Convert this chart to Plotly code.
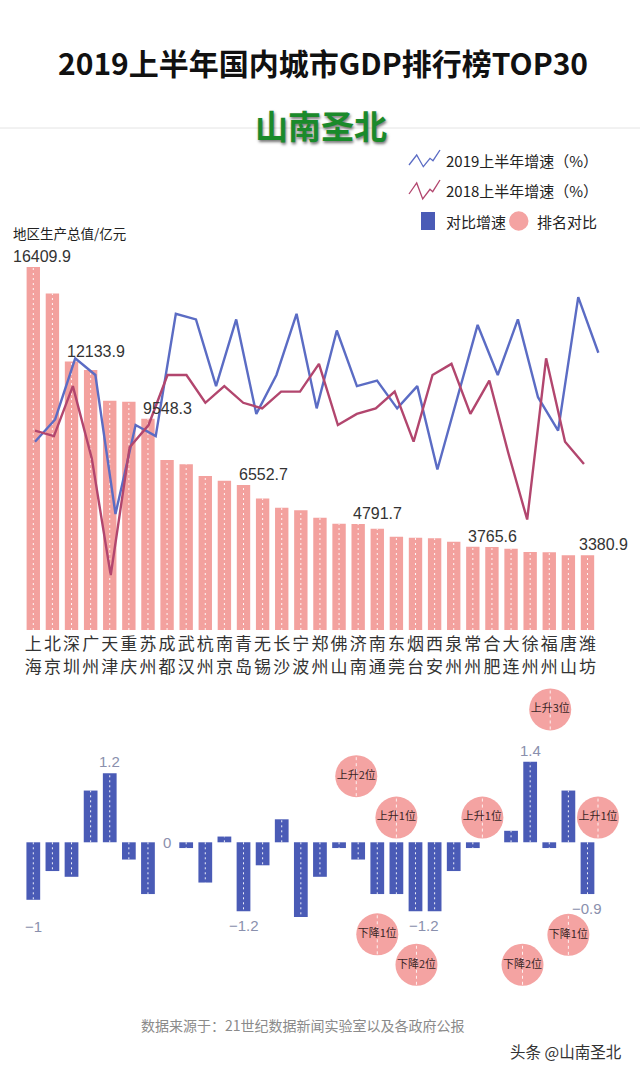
import plotly.graph_objects as go

W, H = 640, 1072

# ---------------- data ----------------
cities = ["上海", "北京", "深圳", "广州", "天津", "重庆", "苏州", "成都", "武汉", "杭州",
          "南京", "青岛", "无锡", "长沙", "宁波", "郑州", "佛山", "济南", "南通", "东莞",
          "烟台", "西安", "泉州", "常州", "合肥", "大连", "徐州", "福州", "唐山", "潍坊"]

gdp = [16409.9, 15212.5, 12133.9, 11750, 10360, 10320, 9548.3, 7685, 7490, 6960,
       6750, 6552.7, 5950, 5530, 5410, 5080, 4800, 4791.7, 4580, 4215,
       4175, 4145, 3993, 3765.6, 3752, 3677, 3526, 3520, 3384, 3380.9]

# growth lines as drawn in the picture (the 2019 line has 29 vertices)
growth_2019 = [5.9, 6.3, 7.4, 7.1, 4.6, 6.2, 6.0, 8.2, 8.1, 6.9,
               8.1, 6.4, 7.1, 8.2, 6.5, 7.9, 6.9, 7.0, 6.5, 6.9,
               5.4, 6.7, 8.0, 7.1, 8.1, 6.7, 6.1, 8.5, 7.5]
growth_2018 = [6.1, 6.0, 6.9, 5.6, 3.5, 5.8, 6.2, 7.1, 7.1, 6.6,
               6.9, 6.6, 6.5, 6.8, 6.8, 7.3, 6.2, 6.4, 6.5, 6.8,
               5.9, 7.1, 7.3, 6.4, 7.0, 5.7, 4.5, 7.4, 5.9, 5.5]

growth_diff = [-1.0, -0.5, -0.6, 0.9, 1.2, -0.3, -0.9, 0.0, -0.1, -0.7,
               0.1, -1.2, -0.4, 0.4, -1.3, -0.6, -0.1, -0.3, -0.9, -0.9,
               -1.2, -1.2, -0.5, -0.1, 0.0, 0.2, 1.4, -0.1, 0.9, -0.9]

gdp_label_idx = [0, 2, 6, 11, 17, 23, 29]
diff_label_idx = [0, 4, 7, 11, 20, 26, 29]

rank_text = ["上升2位", "下降1位", "上升1位", "下降2位", "上升1位",
             "下降2位", "上升3位", "下降1位", "上升1位"]
rank_pos = [16.9, 18.0, 19.0, 20.05, 23.5, 25.6, 27.05, 28.0, 29.55]
rank_level = [1.15, -1.6, 0.43, -2.13, 0.43, -2.13, 2.31, -1.61, 0.43]

# ---------------- geometry helpers ----------------
def py(p):
    return 1 - p / H

def pxp(p):
    return p / W

CAT0, CATD = 33.3, 19.11          # first category centre / spacing in px
x_range = [-CAT0 / CATD, (W - CAT0) / CATD]

TOP_BASE, TOP_TOP, TOP_SCALE = 630, 230, 363 / 16409.9
LINE_SCALE, LINE_REF_V, LINE_REF_P = 55.6, 5.9, 441.7
line_r0 = LINE_REF_V - (TOP_BASE - LINE_REF_P) / LINE_SCALE
line_range = [line_r0, line_r0 + (TOP_BASE - TOP_TOP) / LINE_SCALE]

BOT_BASE, BOT_TOP, BOT_BOT, BOT_SCALE = 842.3, 680, 1000, 57.5
bot_range = [-(BOT_BOT - BOT_BASE) / BOT_SCALE, (BOT_BASE - BOT_TOP) / BOT_SCALE]

blue_x0, blue_dx = 35, 20.12
red_x0, red_dx = 35, 18.93

CJK = "Noto Sans CJK SC"
NUM = "Liberation Sans, Noto Sans CJK SC"

PINK = "#F3A19E"
CIRCLE = "#F4A3A2"
BLUE_BAR = "#4A5BB6"
BLUE_LINE = "#5B6CC4"
RED_LINE = "#B2466E"

idx = list(range(len(cities)))
fig = go.Figure()

# top GDP bars
fig.add_trace(go.Bar(x=idx, y=gdp, marker=dict(color=PINK, line=dict(width=0)),
                     width=0.7, xaxis="x", yaxis="y", hoverinfo="skip"))
dx, dy = [], []
for i, v in zip(idx, gdp):
    dx += [i, i, None]
    dy += [0, v, None]
fig.add_trace(go.Scatter(x=dx, y=dy, mode="lines", xaxis="x", yaxis="y",
                         line=dict(color="rgba(255,255,255,0.9)", width=1, dash="2px,3px"),
                         hoverinfo="skip"))
# invisible companion trace so that the second row of city labels (axis x5) is drawn
fig.add_trace(go.Scatter(x=idx, y=[0] * len(idx), mode="markers", xaxis="x5", yaxis="y",
                         marker=dict(size=1, opacity=0), hoverinfo="skip"))

# lines
fig.add_trace(go.Scatter(x=list(range(len(growth_2019))), y=growth_2019, mode="lines",
                         line=dict(color=BLUE_LINE, width=2.4), xaxis="x2", yaxis="y2",
                         hoverinfo="skip"))
fig.add_trace(go.Scatter(x=list(range(len(growth_2018))), y=growth_2018, mode="lines",
                         line=dict(color=RED_LINE, width=2.4), xaxis="x3", yaxis="y2",
                         hoverinfo="skip"))

# bottom diff bars
fig.add_trace(go.Bar(x=idx, y=growth_diff, marker=dict(color=BLUE_BAR, line=dict(width=0)),
                     width=0.72, xaxis="x4", yaxis="y3", hoverinfo="skip"))
bx, by = [], []
for i, v in zip(idx, growth_diff):
    if v != 0:
        bx += [i, i, None]
        by += [0, v, None]
fig.add_trace(go.Scatter(x=bx, y=by, mode="lines", xaxis="x4", yaxis="y3",
                         line=dict(color="rgba(255,255,255,0.9)", width=1, dash="2px,3px"),
                         hoverinfo="skip"))

# rank circles
fig.add_trace(go.Scatter(x=rank_pos, y=rank_level, mode="markers", xaxis="x4", yaxis="y3",
                         marker=dict(size=42, color=CIRCLE, line=dict(width=0)),
                         hoverinfo="skip"))
r_units = 20 / BOT_SCALE
cx, cy = [], []
for xp, yl in zip(rank_pos, rank_level):
    cx += [xp, xp, None]
    cy += [yl - r_units, yl + r_units, None]
fig.add_trace(go.Scatter(x=cx, y=cy, mode="lines", xaxis="x4", yaxis="y3",
                         line=dict(color="rgba(255,255,255,0.85)", width=1, dash="3px,3px"),
                         hoverinfo="skip"))
fig.add_trace(go.Scatter(x=rank_pos, y=rank_level, mode="text", text=rank_text,
                         textposition="middle center", xaxis="x4", yaxis="y3",
                         textfont=dict(family=CJK, size=11, color="#3a2626"),
                         hoverinfo="skip"))

annotations = []
shapes = []

# title & brand
annotations.append(dict(x=pxp(323), y=py(62), xref="paper", yref="paper",
                        text="<b>2019上半年国内城市GDP排行榜TOP30</b>", showarrow=False,
                        xanchor="center", yanchor="middle",
                        font=dict(family=CJK, size=30, color="#111")))
shapes.append(dict(type="line", xref="paper", yref="paper", x0=0, x1=1,
                   y0=py(128), y1=py(128), line=dict(color="#e4e4e4", width=1)))
annotations.append(dict(x=pxp(321), y=py(125), xref="paper", yref="paper",
                        text="<b>山南圣北</b>", showarrow=False, xanchor="center", yanchor="middle",
                        font=dict(family=CJK, size=33, color="#1A8A2B", weight=900,
                                  shadow="1px 2px 3px rgba(0,0,0,0.55)")))

# legend
blue_icon = [(409, 165), (416.7, 155), (423.3, 166.7), (430, 158.3), (433, 160.7), (440, 150)]
red_icon = [(409, 194), (416.7, 183), (422.7, 199), (430, 189.3), (432.7, 191.7), (440, 180)]
for pts, col in ((blue_icon, BLUE_LINE), (red_icon, RED_LINE)):
    path = "M " + " L ".join(f"{pxp(a):.5f},{py(b):.5f}" for a, b in pts)
    shapes.append(dict(type="path", xref="paper", yref="paper", path=path,
                       line=dict(color=col, width=1.3)))
LEG_FONT = dict(family=CJK, size=15, color="#222")
annotations.append(dict(x=pxp(444), y=py(160), xref="paper", yref="paper",
                        text="2019上半年增速（%）", showarrow=False, xanchor="left",
                        yanchor="middle", font=LEG_FONT))
annotations.append(dict(x=pxp(444), y=py(190), xref="paper", yref="paper",
                        text="2018上半年增速（%）", showarrow=False, xanchor="left",
                        yanchor="middle", font=LEG_FONT))
shapes.append(dict(type="rect", xref="paper", yref="paper", x0=pxp(421), x1=pxp(435),
                   y0=py(230), y1=py(212), fillcolor=BLUE_BAR, line=dict(width=0)))
annotations.append(dict(x=pxp(444), y=py(221), xref="paper", yref="paper",
                        text="对比增速", showarrow=False, xanchor="left",
                        yanchor="middle", font=LEG_FONT))
shapes.append(dict(type="circle", xref="paper", yref="paper", x0=pxp(509), x1=pxp(528.5),
                   y0=py(230.7), y1=py(211.3), fillcolor=CIRCLE, line=dict(width=0)))
annotations.append(dict(x=pxp(535), y=py(221), xref="paper", yref="paper",
                        text="排名对比", showarrow=False, xanchor="left",
                        yanchor="middle", font=LEG_FONT))

# y-axis title
annotations.append(dict(x=pxp(11), y=py(233), xref="paper", yref="paper",
                        text="地区生产总值/亿元", showarrow=False, xanchor="left",
                        yanchor="middle", font=dict(family=CJK, size=13.5, color="#222")))

# GDP labels
gdp_shift = {0: -22, 29: -10}
for i in gdp_label_idx:
    annotations.append(dict(x=i, y=gdp[i], xref="x", yref="y", text=f"{gdp[i]:.1f}",
                            showarrow=False, xanchor="left", yanchor="bottom",
                            xshift=gdp_shift.get(i, -7), yshift=0,
                            font=dict(family=NUM, size=16, color="#333")))

# diff labels
def fmt(v):
    s = f"{v:g}"
    return s.replace("-", "−")

diff_xoff = {20: 0.45}
diff_yshift = {0: -12}
for i in diff_label_idx:
    v = growth_diff[i]
    if v > 0:
        ya, ys = "bottom", 1
    elif v < 0:
        ya, ys = "top", -4
    else:
        ya, ys = "middle", 0
    annotations.append(dict(x=i + diff_xoff.get(i, 0), y=v, xref="x4", yref="y3", text=fmt(v),
                            showarrow=False, xanchor="center", yanchor=ya,
                            yshift=ys + diff_yshift.get(i, 0),
                            font=dict(family=NUM, size=15, color="#8a90ad")))

# footer
annotations.append(dict(x=pxp(303), y=py(1025), xref="paper", yref="paper",
                        text="数据来源于：21世纪数据新闻实验室以及各政府公报", showarrow=False,
                        xanchor="center", yanchor="middle",
                        font=dict(family=CJK, size=14, color="#8a8a8a")))
annotations.append(dict(x=pxp(566), y=py(1051), xref="paper", yref="paper",
                        text="头条 @山南圣北", showarrow=False,
                        xanchor="center", yanchor="middle",
                        font=dict(family=CJK, size=15.5, color="#333")))

# city labels: first character on the main axis, second character on a parallel axis
tick_first = [c[0] for c in cities]
tick_second = [c[1] for c in cities]
TICK_FONT = dict(family=CJK, size=17, color="#333")

fig.update_layout(
    width=W, height=H,
    margin=dict(l=0, r=0, t=0, b=0),
    paper_bgcolor="white", plot_bgcolor="rgba(0,0,0,0)",
    showlegend=False, barmode="overlay",
    xaxis=dict(range=x_range, domain=[0, 1], anchor="y", tickmode="array",
               tickvals=idx, ticktext=tick_first, showgrid=False, zeroline=False,
               showline=False, ticks="", ticklabelstandoff=2,
               tickfont=TICK_FONT, fixedrange=True),
    xaxis5=dict(range=x_range, overlaying="x", anchor="free", position=py(TOP_BASE + 23),
                side="bottom", tickmode="array", tickvals=idx, ticktext=tick_second,
                showgrid=False, zeroline=False, showline=False, ticks="",
                ticklabelstandoff=2, tickfont=TICK_FONT, fixedrange=True),
    yaxis=dict(range=[0, (TOP_BASE - TOP_TOP) / TOP_SCALE], domain=[py(TOP_BASE), py(TOP_TOP)],
               anchor="x", visible=False, fixedrange=True),
    xaxis2=dict(range=[-blue_x0 / blue_dx, (W - blue_x0) / blue_dx], overlaying="x",
                anchor="y2", visible=False),
    xaxis3=dict(range=[-red_x0 / red_dx, (W - red_x0) / red_dx], overlaying="x",
                anchor="y2", visible=False),
    yaxis2=dict(range=line_range, overlaying="y", anchor="x2", visible=False),
    xaxis4=dict(range=x_range, domain=[0, 1], anchor="y3", visible=False),
    yaxis3=dict(range=bot_range, domain=[py(BOT_BOT), py(BOT_TOP)], anchor="x4",
                visible=False),
    annotations=annotations,
    shapes=shapes,
)

fig.write_html("out.html", config={"displayModeBar": False},
               post_script="document.body.style.margin='0';document.body.style.overflow='hidden';")
